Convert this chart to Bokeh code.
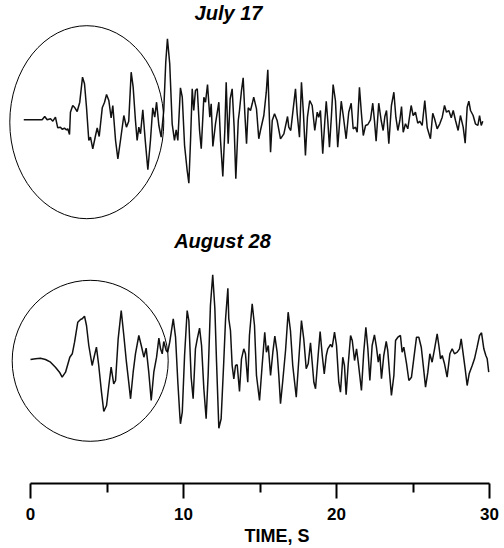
from bokeh.plotting import figure
from bokeh.models import Range1d, LinearAxis, FixedTicker, Label, Title
from bokeh.embed import file_html
from bokeh.resources import INLINE

# ---- data: time (s) and relative ground motion amplitude ----
jul_t = [-0.44, 0.76, 0.93, 1.09, 1.31, 1.46, 1.63, 1.78, 1.96, 2.07, 2.22, 2.35, 2.44, 2.55,
         2.61, 2.76, 2.90, 3.05, 3.22, 3.40, 3.53, 3.66, 3.81, 3.92, 4.07, 4.25, 4.36, 4.49,
         4.69, 4.84, 4.97, 5.12, 5.27, 5.38, 5.56, 5.71, 5.88, 6.10, 6.27, 6.42, 6.58, 6.71,
         6.86, 6.97, 7.08, 7.19, 7.34, 7.50, 7.67, 7.84, 7.99, 8.12, 8.24, 8.39, 8.54, 8.71,
         8.84, 8.95, 9.10, 9.26, 9.41, 9.52, 9.63, 9.80, 9.92, 10.07, 10.24, 10.35, 10.46,
         10.57, 10.67, 10.78, 10.90, 11.05, 11.16, 11.33, 11.44, 11.57, 11.72, 11.81, 11.92,
         12.09, 12.31, 12.42, 12.57, 12.70, 12.79, 12.92, 13.05, 13.18, 13.31, 13.42, 13.58,
         13.66, 13.79, 13.90, 14.01, 14.12, 14.23, 14.38, 14.49, 14.59, 14.77, 14.92, 15.03,
         15.25, 15.41, 15.51, 15.62, 15.69, 15.80, 15.95, 16.12, 16.34, 16.56, 16.80, 16.88,
         17.01, 17.17, 17.32, 17.43, 17.58, 17.71, 17.84, 17.97, 18.10, 18.25, 18.41, 18.58,
         18.74, 18.84, 18.95, 19.10, 19.24, 19.33, 19.43, 19.54, 19.67, 19.78, 19.93, 20.08,
         20.31, 20.44, 20.63, 20.80, 20.96, 21.09, 21.24, 21.35, 21.50, 21.63, 21.75, 21.90,
         22.05, 22.22, 22.37, 22.48, 22.59, 22.76, 22.92, 23.05, 23.16, 23.27, 23.42, 23.59,
         23.75, 23.88, 24.01, 24.14, 24.25, 24.36, 24.51, 24.66, 24.88, 25.01, 25.16, 25.31,
         25.44, 25.60, 25.77, 25.93, 26.14, 26.29, 26.41, 26.58, 26.75, 26.91, 27.06, 27.19,
         27.34, 27.50, 27.63, 27.78, 27.95, 28.10, 28.28, 28.41, 28.54, 28.65, 28.76, 28.93,
         29.08, 29.24, 29.35, 29.46, 29.56]
jul_a = [0, 0, 3.3, 0, 1, -1.4, 2.6, -8, -7.4, -9.4, -8.4, -10, -9, -14.7,
         7.6, 14.3, 12, 8.3, 17.6, 42.6, 36, 12.6, -20.7, -17.4, -29, -15.7, -8, -16.7,
         12, 17.6, 25.3, 19.3, 2, 14.3, -20.7, -39, -20.7, 4.3, -7.4, -1.4, 47.6, 32.6,
         -0.7, -20.7, -7.4, -14, 10, -20.7, -50, -20.7, 12, 2.6, 17.6, -5.7, -17.4, 9.3,
         57.6, 81, 56, -4, -20.7, -10, -20.7, 32, 22.6, -25.7, -50.7, -63.4, -20.7,
         31, 9.3, 29.3, 31, -10.7, -29, 22.6, 17.6, 35.3, 2.6, 16, -26.7,
         -4, 17.6, -20.7, -56.7, -10.7, 37.6, -24, 21, 31, -7.4, -59, -0.7,
         9.3, 29.3, 42, 6, -24, 12, 9.3, 16, 22.6, 11, -19, -10.7,
         4.3, 27.6, 50, -0.7, -32.4, -0.7, 6, -0.7, -19, -14, 3.3, -7.4,
         -10.7, 11, 31, 6, -17.4, 37.6, 6, -35.7, 2.6, 19.3, 14.3, -10.7,
         7.6, 2.6, 9.3, -34, -0.7, 18.6, -0.7, -27.4, 4.3, 35.3, 19.3, -27.4,
         18.6, 4.3, -19, 7.6, 16.6, -9, -7.4, -12.4, 32.6, 6, -15.7, -5.7,
         -4.7, 0, 16.6, -0.7, -21.4, 16.6, -0.7, -10.7, 3.3, 9.3, -24, 14.3,
         27.6, 2.6, -10.7, -0.7, 13.3, -12.4, -4, -9, 14.3, 4.3, 7.6, -3.4,
         -1.4, -5.7, 19.3, -8, -19, 6.6, 1, -9, -4, 2.6, 14.3, 7.6,
         9.3, 2, 9.3, -0.7, -10.7, 4.3, -7.4, -23.4, 12.6, 18.6, 9.3, 4.3,
         -4, -5.7, 4.3, -5.7, -1.4]

aug_t = [0.00, 0.33, 0.65, 0.98, 1.31, 1.63, 1.92, 2.07, 2.29, 2.57, 2.73, 2.88, 3.09, 3.27,
         3.38, 3.53, 3.66, 3.81, 4.03, 4.18, 4.31, 4.46, 4.64, 4.79, 4.97, 5.12, 5.27, 5.44,
         5.56, 5.73, 5.93, 6.10, 6.27, 6.42, 6.54, 6.71, 6.86, 7.08, 7.24, 7.41, 7.56, 7.73,
         7.89, 8.06, 8.24, 8.39, 8.50, 8.61, 8.71, 8.87, 8.97, 9.10, 9.20, 9.33, 9.48, 9.63,
         9.76, 9.80, 9.92, 10.07, 10.24, 10.35, 10.50, 10.63, 10.78, 10.90, 11.05, 11.18,
         11.33, 11.48, 11.61, 11.76, 11.91, 12.05, 12.16, 12.31, 12.46, 12.63, 12.75, 12.90,
         12.96, 13.07, 13.18, 13.29, 13.40, 13.51, 13.66, 13.79, 13.94, 14.05, 14.20, 14.31,
         14.49, 14.64, 14.77, 14.97, 15.14, 15.31, 15.42, 15.54, 15.69, 15.84, 15.97, 16.12,
         16.23, 16.34, 16.49, 16.67, 16.84, 16.99, 17.14, 17.37, 17.54, 17.71, 17.86, 18.02,
         18.15, 18.30, 18.41, 18.52, 18.63, 18.80, 18.93, 19.07, 19.20, 19.33, 19.43, 19.61,
         19.72, 19.87, 20.00, 20.15, 20.26, 20.41, 20.52, 20.63, 20.76, 20.92, 21.03, 21.18,
         21.31, 21.42, 21.52, 21.63, 21.78, 21.92, 22.05, 22.18, 22.33, 22.48, 22.61, 22.73,
         22.83, 22.94, 23.09, 23.25, 23.35, 23.48, 23.59, 23.75, 23.86, 24.01, 24.18, 24.29,
         24.40, 24.58, 24.73, 24.90, 25.05, 25.23, 25.38, 25.54, 25.67, 25.82, 25.97, 26.10,
         26.25, 26.41, 26.58, 26.69, 26.80, 26.91, 27.06, 27.23, 27.41, 27.56, 27.71, 27.89,
         28.04, 28.15, 28.28, 28.41, 28.54, 28.67, 28.87, 29.02, 29.19, 29.35, 29.48, 29.63,
         29.76, 29.85, 29.95]
aug_a = [0, 0.7, 1.3, 0, -2.7, -7.7, -13.3, -17.7, -12.7, 2.3, 5.7, 17.3, 37.3, 40,
         40.7, 43.3, 34, 14, -6, 4, 12.3, -6, -32.7, -52, -46, -26, -7.7, -24.3,
         -21, 20.7, 49, 24, -2.7, -22.7, -39.3, -12.7, 5.7, 24, 14, 2.3, 11.3, -12.7,
         -41, -12.7, 2.3, 21.3, 10.7, 5.7, 18, 9, 7.3, 17.3, 27.3, 40.7, 22.3, -22.7,
         -56, -64.3, -52.7, 4, 49, 39, -17.7, -39.3, 10.7, 20.7, 31.3, 14,
         -29.3, -59.3, -16, 54, 84.7, 50.7, -2.7, -68.7, -59.3, -2.7, 40.7, 71.3,
         40.7, 29, -6, -19.3, -6, -5.3, -32, 0.7, 10.7, 5.7, -22.7, 24,
         55.7, 34, -16, -41, -6, 27.3, 7.3, 14, -16, 7.3, 23.3, 7.3,
         -16, -44.3, -21, 9, 47.3, 29, -6, -37.7, 0.7, 39, 20.7, -9.3,
         -4.3, 16.7, -2.7, -22.7, -29.3, 4, 28, 4, -14.3, 4, 10.7, 15,
         12.3, 27.3, 14, -22.7, -32.7, 2.3, -6, -35.3, -6, 24, 19, -1,
         10.7, -2.7, -16, -31, 7.3, 32.3, 10.7, -21, 14, 24.7, 12.3, -2.7,
         5.7, -19.3, 4, 18, 9, -16, -36, -16, 19, 22.3, 24, 7.3,
         12.3, -4.3, -21, -17.7, 0.7, 22.3, 22.3, 12.3, -6, -27.7, -12.7, 5.7,
         -2.7, 10.7, 25.7, 14, 0.7, 4, -4.3, -17.7, 5.7, 10.7, 5.7, 7.3,
         10.7, 20.7, 5.7, -9.3, -26, -14.3, -6, 0.7, 12.3, 24, 26.7, 10.7,
         4, 0.7, -12.7]

titles = ["July 17", "August 28"]
major_ticks = [0, 10, 20, 30]
minor_ticks = [5, 15, 25]
axis_title = "TIME, S"

# ---- layout constants ----
W, H, AX_H = 504, 548, 65
FRAME_H = H - AX_H
PX_PER_S = 15.3
X0 = 30.0
x_start = -X0 / PX_PER_S
x_end = x_start + W / PX_PER_S

JUL_BASE = FRAME_H - 119.3
AUG_BASE = FRAME_H - 359.0

p = figure(width=W, height=H, output_backend="svg", toolbar_location=None,
           x_range=Range1d(x_start, x_end), y_range=Range1d(0, FRAME_H),
           min_border_left=0, min_border_right=0, min_border_top=0,
           min_border_bottom=AX_H, x_axis_location=None, y_axis_location=None)
p.outline_line_color = None
p.grid.visible = False
p.background_fill_color = "white"
p.border_fill_color = "white"

p.line(jul_t, [JUL_BASE + a for a in jul_a], line_color="#111111", line_width=1.5)
p.line(aug_t, [AUG_BASE + a for a in aug_a], line_color="#111111", line_width=1.5)

p.ellipse(x=[(86.3 - X0) / PX_PER_S], y=[FRAME_H - 121.7], width=154 / PX_PER_S, height=193,
          fill_color=None, line_color="black", line_width=1)
p.ellipse(x=[(89.7 - X0) / PX_PER_S], y=[FRAME_H - 360.3], width=156 / PX_PER_S, height=161,
          fill_color=None, line_color="black", line_width=1)

for txt, xc, yc in [(titles[0], 228, 12), (titles[1], 222, 240)]:
    p.add_layout(Label(x=(xc - X0) / PX_PER_S, y=FRAME_H - yc, text=txt,
                       text_align="center", text_baseline="middle",
                       text_font="Liberation Sans", text_font_size="20px",
                       text_font_style="bold italic", text_color="black"))

ax = LinearAxis(ticker=FixedTicker(ticks=major_ticks, minor_ticks=minor_ticks),
                bounds=(0, 30))
ax.axis_line_width = 2
ax.axis_line_color = "black"
ax.major_tick_line_width = 2
ax.major_tick_line_color = "black"
ax.major_tick_in = 0
ax.major_tick_out = 15
ax.minor_tick_line_width = 2
ax.minor_tick_line_color = "black"
ax.minor_tick_in = 0
ax.minor_tick_out = 9
ax.major_label_text_font = "Liberation Sans"
ax.major_label_text_font_size = "17px"
ax.major_label_text_font_style = "bold"
ax.major_label_text_color = "black"
ax.major_label_standoff = 9
p.add_layout(ax, "below")

xt = Title(text=axis_title, align="left", offset=244, standoff=3,
           text_font="Liberation Sans", text_font_size="18px",
           text_font_style="bold", text_color="black")
p.add_layout(xt, "below")

open("out.html", "w").write(file_html(p, INLINE))
